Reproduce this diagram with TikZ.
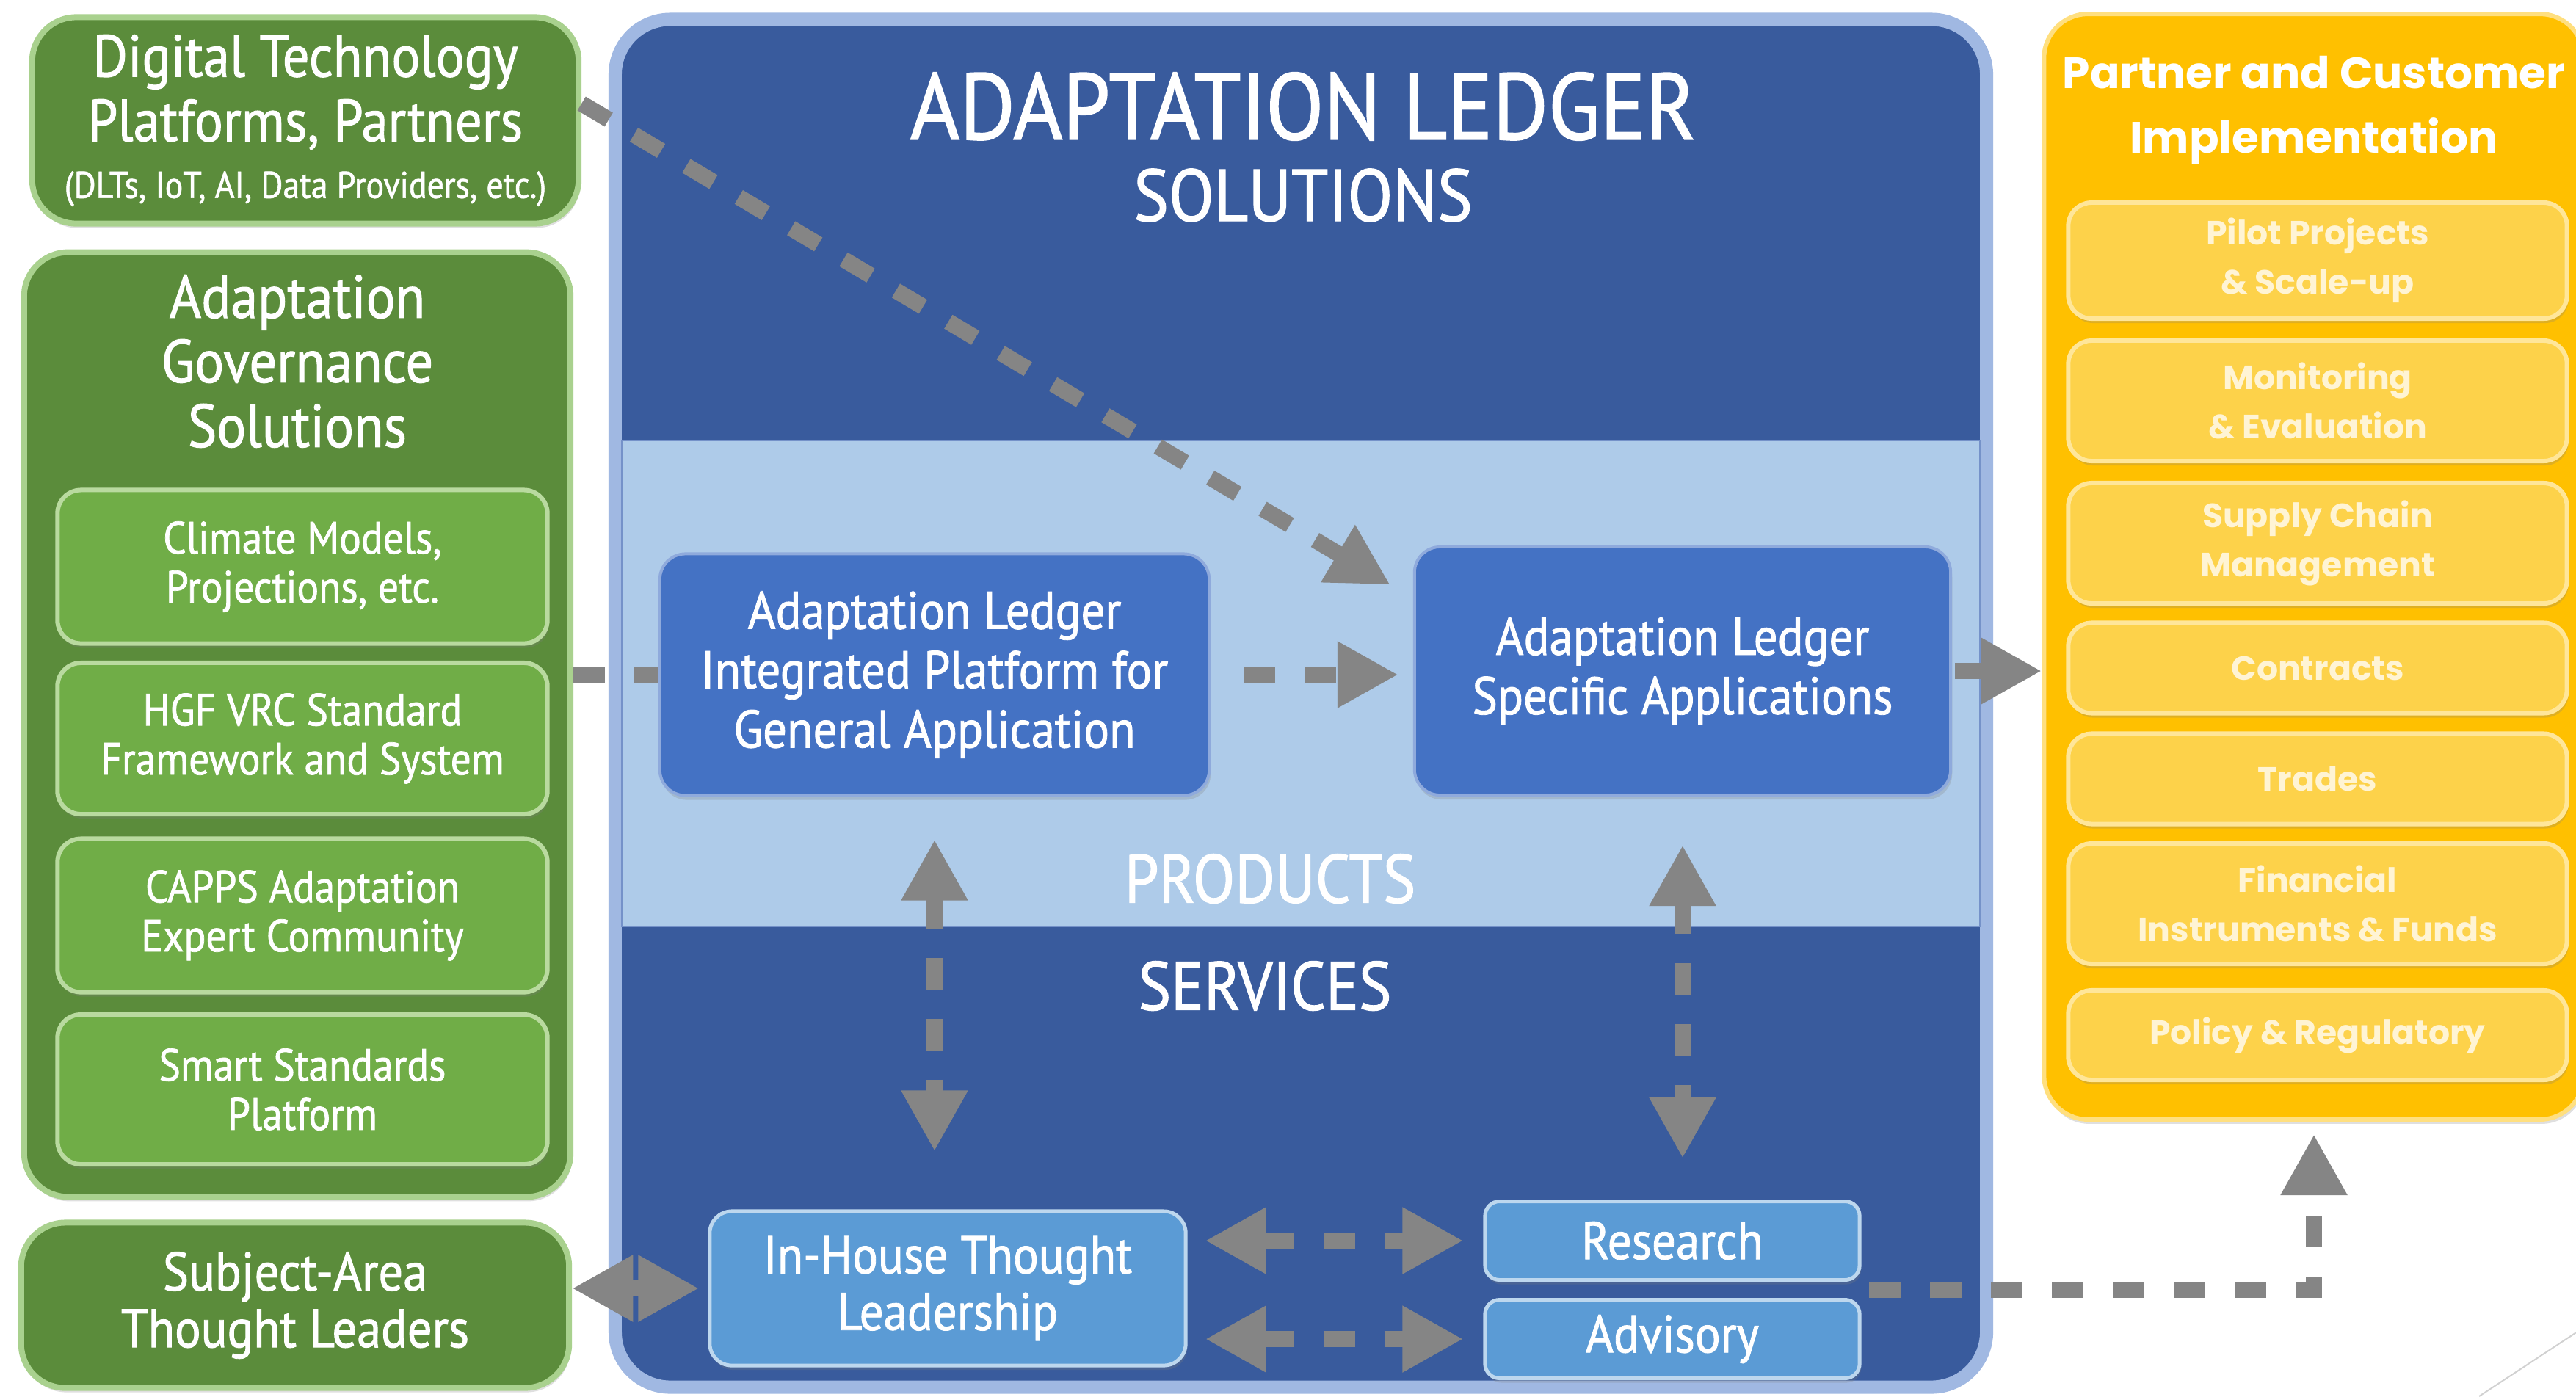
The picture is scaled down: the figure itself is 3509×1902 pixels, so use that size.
\documentclass[tikz,border=0pt]{standalone}
\usepackage{fontspec}
\setmainfont{PT Sans}[FakeStretch=0.9,FakeBold=1.2]
\newfontfamily\pcifont{Poppins}
\usetikzlibrary{arrows.meta,shadows}
\definecolor{grnD}{HTML}{5B8C3B}
\definecolor{grnB}{HTML}{A9D18E}
\definecolor{grnL}{HTML}{70AD47}
\definecolor{grnLB}{HTML}{B9DA9F}
\definecolor{bluD}{HTML}{395B9D}
\definecolor{bluB}{HTML}{A0B8E2}
\definecolor{bluBand}{HTML}{AECBE9}
\definecolor{bluM}{HTML}{4472C4}
\definecolor{bluMB}{HTML}{8FAADC}
\definecolor{bluL}{HTML}{5B9BD5}
\definecolor{bluLB}{HTML}{BDD7EE}
\definecolor{orgD}{HTML}{FFC000}
\definecolor{orgB}{HTML}{FFDF7F}
\definecolor{orgL}{HTML}{FDD24A}
\definecolor{orgLB}{HTML}{FFE699}
\definecolor{orgT}{HTML}{FFF4D4}
\definecolor{arw}{HTML}{858585}
\begin{document}
\begin{tikzpicture}[x=0.01cm,y=-0.01cm,
  shd/.style={drop shadow={shadow xshift=0.02cm,shadow yshift=-0.06cm,opacity=0.25}},
  gout/.style={draw=grnB,line width=0.08cm,fill=grnD,rounded corners=0.6cm,text=white,align=center,shd},
  gin/.style={draw=grnLB,line width=0.06cm,fill=grnL,rounded corners=0.32cm,text=white,align=center,minimum width=6.67cm,font=\fontsize{17.5}{19}\selectfont,shd},
  bmid/.style={draw=bluMB,line width=0.04cm,fill=bluM,rounded corners=0.35cm,text=white,align=center,font=\fontsize{20.5}{23}\selectfont,shd},
  blt/.style={draw=bluLB,line width=0.05cm,fill=bluL,rounded corners=0.3cm,text=white,align=center,font=\fontsize{20.5}{22}\selectfont,shd},
  oin/.style={draw=orgLB,line width=0.06cm,fill=orgL,rounded corners=0.32cm,text=orgT,align=center,minimum width=6.79cm,font=\pcifont\bfseries\fontsize{13}{19}\selectfont,shd},
  lbl/.style={text=white,align=center},
  dashlink/.style={draw=arw,line width=0.22cm,dash pattern=on 0.43cm off 0.40cm},
  onehead/.style={-{Triangle[width=0.85cm,length=0.83cm]}},
  twohead/.style={{Triangle[width=0.85cm,length=0.83cm]}-{Triangle[width=0.85cm,length=0.83cm]}}
]
\useasboundingbox (0,0) rectangle (3509,1902);

\node[gout,minimum width=7.44cm,minimum height=2.81cm,font=\fontsize{23}{25}\selectfont] (DIG) at (416,164)
  {Digital Technology\\Platforms, Partners\\[-3pt]{\fontsize{14.5}{15}\selectfont(DLTs, IoT, AI, Data Providers, etc.)}};
\node[gout,minimum width=7.44cm,minimum height=12.86cm] (GOV) at (405,987) {};
\node[lbl,font=\fontsize{23.5}{25}\selectfont] (GOVT) at (405,492) {Adaptation\\Governance\\Solutions};
\foreach \nm/\yy/\hh/\txt in {CLM/772/2.09/{Climate Models,\\Projections, etc.},
  HGF/1006/2.06/{HGF VRC Standard\\Framework and System},
  CAP/1247/2.09/{CAPPS Adaptation\\Expert Community},
  SSP/1484/2.04/{Smart Standards\\Platform}}
  \node[gin,minimum height=\hh cm] (\nm) at (412,\yy) {\txt};
\node[gout,minimum width=7.46cm,minimum height=2.25cm,font=\fontsize{21}{22}\selectfont] (SUB) at (402,1778) {Subject-Area\\Thought Leaders};

\node[draw=bluB,line width=0.18cm,fill=bluD,rounded corners=0.75cm,minimum width=18.67cm,minimum height=18.62cm] (BLU) at (1772,958) {};
\node[fill=bluBand,draw=bluMB!70!bluD,line width=0.02cm,minimum width=18.49cm,minimum height=6.62cm,inner sep=0pt] (BND) at (1772,931) {};
\node[lbl,font=\fontsize{36.5}{40}\selectfont] (TTL) at (1775,145) {ADAPTATION LEDGER};
\node[lbl,font=\fontsize{28.5}{32}\selectfont] (SOL) at (1775,266) {SOLUTIONS};
\node[lbl,font=\fontsize{26.5}{28}\selectfont] (PRD) at (1730,1197) {PRODUCTS};
\node[lbl,font=\fontsize{26.5}{28}\selectfont] (SRV) at (1723,1343) {SERVICES};
\node[bmid,minimum width=7.48cm,minimum height=3.29cm] (INT) at (1273,919) {Adaptation Ledger\\Integrated Platform for\\General Application};
\node[bmid,minimum width=7.30cm,minimum height=3.38cm] (SPC) at (2292,914) {Adaptation Ledger\\Specific Applications};
\node[blt,minimum width=6.48cm,minimum height=2.10cm] (INH) at (1291,1755) {In-House Thought\\Leadership};
\node[blt,rounded corners=0.2cm,minimum width=5.10cm,minimum height=1.07cm] (RES) at (2278,1690) {Research};
\node[blt,rounded corners=0.2cm,minimum width=5.10cm,minimum height=1.07cm] (ADV) at (2278,1824) {Advisory};

\node[draw=orgB,line width=0.06cm,fill=orgD,rounded corners=0.6cm,minimum width=7.35cm,minimum height=15.05cm,shd] (PCI) at (3152,772) {};
\node[lbl,font=\pcifont\bfseries\fontsize{17}{25}\selectfont] (PCT) at (3152,150) {Partner and Customer\\Implementation};
\foreach \nm/\yy/\hh/\txt in {PIL/355/1.58/{Pilot Projects\\\& Scale-up},
  MON/546/1.64/{Monitoring\\\& Evaluation},
  SUP/740/1.64/{Supply Chain\\Management},
  CON/910/1.23/Contracts, TRA/1061/1.23/Trades,
  FIN/1231/1.64/{Financial\\Instruments \& Funds},
  POL/1410/1.22/{Policy \& Regulatory}}
  \node[oin,minimum height=\hh cm] (\nm) at (3157,\yy) {\txt};

\draw[dashlink,onehead,shorten >=0.36cm] ([yshift=0.23cm]DIG.east) -- ([yshift=0.99cm]SPC.west);
\draw[dashlink] (GOV.east |- INT.west) -- (INT.west);
\draw[dashlink,onehead,shorten <=0.45cm,shorten >=0.2cm] (INT.east) -- (INT.east -| SPC.west);
\draw[dashlink,onehead,shorten <=0.04cm] (SPC.east) -- (SPC.east -| PCI.west);
\draw[dashlink,twohead,shorten <=0.58cm,shorten >=0.79cm] (INT.south) -- (INT.south |- INH.north);
\draw[dashlink,twohead,shorten <=0.66cm,shorten >=0.56cm] (SPC.south) -- (SPC.south |- RES.north);
\foreach \to in {RES,ADV}
  \draw[dashlink,twohead,shorten <=0.24cm,shorten >=0.27cm] (INH.east |- \to.west) -- (\to.west);
\draw[dashlink,twohead,shorten >=0.12cm] (SUB.east |- INH.west) -- (INH.west);
\coordinate (RA) at (2536,1757);
\draw[dashlink,onehead,shorten <=0.1cm,shorten >=0.17cm] (RA) -| (PCI.south);
\draw[black!18,line width=0.02cm] (3377,1902) -- (3520,1808);
\end{tikzpicture}
\end{document}
